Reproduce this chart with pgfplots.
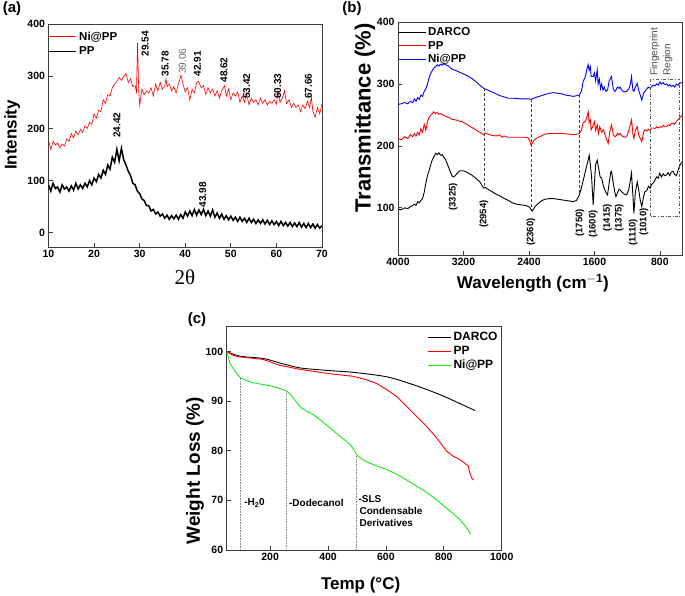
\documentclass[border=0pt]{standalone}
\usepackage{fontspec}
\setmainfont{Liberation Sans}
\newfontfamily\serifft{Liberation Serif}
\usepackage{pgfplots}
\pgfplotsset{compat=1.18}
\definecolor{cgreen}{RGB}{20,235,20}
\definecolor{axgray}{RGB}{60,60,60}
\begin{document}
\begin{tikzpicture}
\useasboundingbox (0pt,0pt) rectangle (685pt,596pt);
\pgfplotsset{
  every axis/.append style={
    scale only axis,
    tick align=inside,
    xtick pos=left, ytick pos=left,
    axis line style={line width=0.9pt, axgray},
    major tick length=4pt,
    tick style={line width=0.8pt, axgray},
    tick label style={font=\bfseries\fontsize{10.5}{12}\selectfont},
    /pgf/number format/assume math mode=true,
    /pgf/number format/1000 sep={},
    legend cell align=left,
    clip=true,
  }
}
% ---------------- panel (a)
\node[font=\bfseries\fontsize{15}{17}\selectfont] at (12pt,587pt) {(a)};
\begin{axis}[
  at={(48.5pt,349pt)}, anchor=south west,
  width=273.5pt, height=223pt,
  xmin=10, xmax=70, ymin=-27, ymax=400,
  xtick={10,20,...,70}, ytick={0,100,...,400},
  xlabel={\serifft\fontsize{21}{24}\selectfont 2θ},
  ylabel={\bfseries\fontsize{17}{19}\selectfont Intensity},
  xlabel style={at={(axis description cs:0.499,-0.135)}, anchor=center},
  ylabel style={at={(axis description cs:-0.133,0.502)}, anchor=center},
  legend style={at={(axis description cs:0.0,0.975)}, anchor=north west, draw=none, fill=none,
    font=\bfseries\fontsize{11.5}{13}\selectfont, inner sep=0pt, row sep=1pt},
  legend image code/.code={\draw[#1] (0pt,0pt) -- (27pt,0pt);},
]
\addplot[red, line width=0.6pt] coordinates {
(10,178)(10.5,160)(11,175)(11.5,168)(12,172)(12.5,163)(13,170)(13.5,166)(14,180)(14.5,175)
(15,190)(15.5,182)(16,195)(16.5,188)(17,198)(17.5,192)(18,205)(18.5,200)(19,212)(19.5,208)
(20,228)(20.5,220)(21,235)(21.5,232)(22,255)(22.5,248)(23,265)(23.5,262)(24,278)(24.5,285)
(25,290)(25.5,298)(26,292)(26.5,300)(27,305)(27.5,288)(28,295)(28.5,280)(29,282)(29.3,270)
(29.54,365)(29.8,270)(30,245)(30.5,275)(31,265)(31.5,272)(32,268)(32.5,278)(33,262)(33.5,285)
(34,272)(34.5,288)(35,275)(35.5,282)(35.78,295)(36,280)(36.5,285)(37,272)(37.5,280)(38,268)
(38.5,285)(39.06,302)(39.5,285)(40,270)(40.5,278)(41,255)(41.5,275)(42,268)(42.5,288)(42.91,290)
(43.5,278)(44,282)(44.5,265)(45,278)(45.5,268)(46,275)(46.5,262)(47,272)(47.5,258)(48,272)
(48.62,282)(49,262)(49.5,275)(50,255)(50.5,268)(51,262)(51.5,270)(52,250)(52.5,262)(53,250)
(53.42,268)(54,245)(54.5,258)(55,250)(55.5,255)(56,245)(56.5,258)(57,248)(57.5,255)(58,245)
(58.5,252)(59,248)(59.5,255)(60,246)(60.33,272)(60.8,250)(61.3,258)(61.8,272)(62.2,248)(62.8,255)
(63.3,240)(63.8,248)(64.3,240)(64.8,245)(65.3,232)(65.8,245)(66.3,238)(66.8,252)(67.3,240)(67.66,260)
(68,232)(68.5,222)(69,240)(69.5,228)(70,248)
};
\addlegendentry{Ni@PP}
\addplot[black, line width=1.5pt] coordinates {
(10,92)(10.5,80)(11,95)(11.5,85)(12,88)(12.5,78)(13,92)(13.5,84)(14,88)(14.5,80)
(15,90)(15.5,82)(16,95)(16.5,84)(17,92)(17.5,85)(18,95)(18.5,88)(19,100)(19.5,92)
(20,105)(20.5,98)(21,112)(21.5,105)(22,120)(22.5,112)(23,130)(23.5,122)(24,145)(24.5,135)
(25,160)(25.5,138)(26,162)(26.5,140)(27,130)(27.5,118)(28,110)(28.5,95)(29,92)(29.5,80)
(30,75)(30.5,65)(31,62)(31.5,52)(32,52)(32.5,42)(33,45)(33.5,36)(34,40)(34.5,32)
(35,36)(35.5,28)(36,34)(36.5,26)(37,33)(37.5,27)(38,34)(38.5,26)(39,35)(39.5,28)
(40,40)(40.5,32)(41,42)(41.5,33)(42,45)(42.5,34)(43,44)(43.5,35)(44,45)(44.5,33)
(45,42)(45.5,32)(46,44)(46.5,30)(47,38)(47.5,28)(48,36)(48.5,26)(49,33)(49.5,25)
(50,32)(50.5,24)(51,30)(51.5,22)(52,30)(52.5,22)(53,28)(53.5,20)(54,28)(54.5,20)
(55,26)(55.5,18)(56,25)(56.5,18)(57,25)(57.5,17)(58,24)(58.5,16)(59,23)(59.5,16)
(60,22)(60.5,14)(61,22)(61.5,14)(62,20)(62.5,13)(63,20)(63.5,12)(64,19)(64.5,12)
(65,20)(65.5,11)(66,18)(66.5,10)(67,18)(67.5,10)(68,17)(68.5,9)(69,16)(69.5,9)(70,14)
};
\addlegendentry{PP}
\begin{scope}[font=\bfseries\fontsize{10}{12}\selectfont]
\node[rotate=90] at (axis cs:31.2,362) {29.54};
\node[rotate=90] at (axis cs:35.6,324) {35.78};
\node[rotate=90, font=\fontsize{10}{12}\selectfont, text=black!60] at (axis cs:39.4,329) {39.06};
\node[rotate=90] at (axis cs:42.7,324) {42.91};
\node[rotate=90] at (axis cs:48.5,312) {48.62};
\node[rotate=90] at (axis cs:53.5,281) {53.42};
\node[rotate=90] at (axis cs:60.3,281) {60.33};
\node[rotate=90] at (axis cs:67.0,281) {67.66};
\node[rotate=90] at (axis cs:25.0,206) {24.42};
\node[rotate=90] at (axis cs:43.8,73) {43.98};
\end{scope}
\end{axis}
% ---------------- panel (b)
\node[font=\bfseries\fontsize{15}{17}\selectfont] at (352pt,587pt) {(b)};
\begin{axis}[
  at={(398pt,341pt)}, anchor=south west,
  width=284pt, height=233pt,
  x dir=reverse,
  xmin=530, xmax=4000, ymin=24, ymax=400,
  xtick={4000,3200,2400,1600,800}, ytick={100,200,300,400},
  xlabel={\bfseries\fontsize{17}{19}\selectfont Wavelength (cm$^{\mathbf{-1}}$)},
  ylabel={\bfseries\fontsize{22}{24}\selectfont Transmittance (\%)},
  xlabel style={at={(axis description cs:0.475,-0.12)}, anchor=center},
  ylabel style={at={(axis description cs:-0.116,0.588)}, anchor=center},
  legend style={at={(axis description cs:0.0,0.985)}, anchor=north west, draw=none, fill=none,
    font=\bfseries\fontsize{11.5}{13}\selectfont, inner sep=0pt, row sep=0pt},
  legend image code/.code={\draw[#1] (0pt,0pt) -- (27pt,0pt);},
]
\addplot[black, line width=0.9pt] coordinates {
(4000,98)(3960,97)(3920,100)(3880,99)(3850,102)(3820,104)(3800,106)(3780,104)(3760,110)(3740,108)
(3720,112)(3700,115)(3680,125)(3660,140)(3640,152)(3620,160)(3600,170)(3580,178)(3560,183)(3540,188)
(3520,186)(3500,189)(3480,185)(3460,186)(3440,182)(3420,178)(3400,172)(3380,165)(3360,158)(3340,152)
(3325,150)(3300,152)(3270,157)(3240,160)(3210,160)(3180,159)(3150,157)(3100,153)(3050,148)(3000,142)
(2954,132)(2930,133)(2900,130)(2850,126)(2800,122)(2750,119)(2700,115)(2650,112)(2600,108)(2550,106)
(2500,105)(2450,104)(2420,103)(2390,101)(2370,96)(2360,95)(2345,98)(2320,103)(2280,108)(2240,112)
(2200,114)(2150,115)(2100,115)(2050,114)(2000,113)(1950,112)(1900,111)(1860,110)(1820,112)(1786,120)
(1760,132)(1730,148)(1700,165)(1680,175)(1664,185)(1650,170)(1635,150)(1615,105)(1600,140)(1585,170)
(1566,177)(1550,165)(1530,150)(1512,148)(1490,135)(1460,125)(1440,121)(1420,140)(1400,158)(1391,159)
(1370,140)(1350,125)(1337,118)(1320,124)(1300,130)(1288,129)(1260,125)(1230,122)(1207,121)(1180,130)
(1160,145)(1147,156)(1130,120)(1118,91)(1100,125)(1077,142)(1060,130)(1040,112)(1021,102)(1000,118)
(984,126)(960,128)(940,135)(920,132)(900,138)(883,140)(860,145)(840,150)(820,148)(802,156)
(780,150)(760,155)(740,152)(719,153)(700,157)(680,152)(660,158)(638,159)(620,154)(597,152)
(580,160)(560,168)(540,172)(530,174)
};
\addlegendentry{DARCO}
\addplot[red, line width=0.9pt] coordinates {
(4000,212)(3960,210)(3920,215)(3880,212)(3850,218)(3820,215)(3800,220)(3780,216)(3760,222)(3740,218)
(3720,228)(3700,222)(3680,235)(3660,225)(3640,240)(3620,246)(3600,250)(3580,252)(3565,255)(3540,252)
(3520,254)(3500,251)(3480,252)(3450,250)(3420,248)(3380,246)(3340,243)(3300,242)(3250,240)(3215,239)
(3150,234)(3100,230)(3050,226)(3000,222)(2954,218)(2930,221)(2900,219)(2850,217)(2800,216)(2760,218)
(2730,214)(2700,216)(2657,214)(2600,214)(2500,214)(2450,214)(2410,213)(2390,208)(2376,202)(2360,204)
(2340,209)(2300,213)(2250,216)(2205,219)(2150,220)(2100,220)(2000,220)(1900,219)(1859,218)(1820,219)
(1786,220)(1760,225)(1737,237)(1710,240)(1690,248)(1676,255)(1665,238)(1650,242)(1640,226)(1620,232)
(1600,239)(1585,225)(1566,234)(1550,220)(1535,231)(1512,222)(1490,226)(1460,214)(1432,204)(1410,225)
(1391,234)(1370,218)(1350,215)(1337,216)(1320,220)(1300,218)(1288,220)(1260,216)(1230,214)(1207,215)
(1180,225)(1160,235)(1147,242)(1130,220)(1118,212)(1100,225)(1077,231)(1060,218)(1040,212)(1021,207)
(1000,222)(984,226)(960,224)(940,227)(920,225)(900,229)(883,229)(860,228)(840,231)(820,229)
(802,231)(780,230)(760,233)(740,231)(719,231)(700,234)(680,233)(660,236)(638,237)(620,235)
(597,240)(580,242)(560,245)(540,248)(530,250)
};
\addlegendentry{PP}
\addplot[blue, line width=0.9pt] coordinates {
(4000,267)(3960,268)(3920,270)(3880,268)(3850,272)(3820,270)(3800,276)(3780,272)(3760,278)(3740,275)
(3720,282)(3700,280)(3680,288)(3660,292)(3640,300)(3620,310)(3600,317)(3580,322)(3560,326)(3540,328)
(3520,331)(3500,329)(3480,332)(3460,330)(3440,333)(3420,331)(3400,330)(3380,329)(3360,326)(3340,324)
(3300,322)(3250,319)(3215,317)(3150,313)(3100,309)(3050,304)(3000,298)(2954,293)(2900,290)(2850,287)
(2800,284)(2750,281)(2700,279)(2657,277)(2600,277)(2500,276)(2450,276)(2400,276)(2376,275)(2340,277)
(2300,279)(2250,281)(2205,283)(2150,285)(2100,286)(2050,285)(2000,284)(1950,282)(1900,281)(1859,280)
(1820,281)(1786,282)(1760,288)(1737,304)(1710,312)(1690,325)(1676,331)(1665,322)(1650,328)(1640,312)
(1615,312)(1600,318)(1585,305)(1566,323)(1555,300)(1540,308)(1525,292)(1512,300)(1495,290)(1480,295)
(1460,288)(1440,290)(1420,305)(1391,312)(1370,292)(1350,288)(1337,290)(1320,295)(1300,293)(1288,295)
(1260,289)(1230,287)(1207,288)(1180,292)(1160,300)(1147,312)(1130,290)(1118,288)(1100,295)(1077,301)
(1060,290)(1040,282)(1021,274)(1000,285)(984,288)(960,292)(940,295)(920,293)(900,296)(883,298)
(860,297)(840,300)(820,298)(802,303)(780,300)(760,302)(740,299)(719,300)(700,297)(680,299)
(660,296)(638,298)(620,295)(597,300)(580,298)(560,301)(540,302)(530,303)
};
\addlegendentry{Ni@PP}
\draw[densely dashed, black!75, line width=0.6pt] (axis cs:2950,293) -- (axis cs:2950,132);
\draw[densely dashed, black!75, line width=0.6pt] (axis cs:2376,276) -- (axis cs:2376,96);
\draw[densely dashed, black!75, line width=0.6pt] (axis cs:1786,282) -- (axis cs:1786,120);
\draw[dash dot, black!65, line width=0.6pt] (axis cs:923,307.5) rectangle (axis cs:557,86);
\node[rotate=90, anchor=west, text=black!70, font=\fontsize{10}{12}\selectfont, inner sep=0pt] at (axis cs:862,313) {Fingerprint};
\node[rotate=90, anchor=west, text=black!70, font=\fontsize{10}{12}\selectfont, inner sep=0pt] at (axis cs:703,313) {Region};
\begin{scope}[font=\bfseries\fontsize{9.5}{11}\selectfont]
\node[rotate=90] at (axis cs:3325,118) {(3325)};
\node[rotate=90] at (axis cs:2950,90) {(2954)};
\node[rotate=90] at (axis cs:2376,61) {(2360)};
\node[rotate=90] at (axis cs:1778,76) {(1750)};
\node[rotate=90] at (axis cs:1615,74) {(1600)};
\node[rotate=90] at (axis cs:1440,84) {(1415)};
\node[rotate=90] at (axis cs:1298,84) {(1375)};
\node[rotate=90] at (axis cs:1127,61) {(1110)};
\node[rotate=90] at (axis cs:996,77) {(1010)};
\end{scope}
\end{axis}
% ---------------- panel (c)
\node[font=\bfseries\fontsize{15}{17}\selectfont] at (197pt,276pt) {(c)};
\begin{axis}[
  at={(226.7pt,46pt)}, anchor=south west,
  width=275pt, height=223.3pt,
  xmin=50, xmax=1000, ymin=60, ymax=105,
  xtick={200,400,...,1000}, ytick={60,70,...,100},
  xlabel={\bfseries\fontsize{17}{19}\selectfont Temp (°C)},
  ylabel={\bfseries\fontsize{19}{21}\selectfont Weight Loss (\%)},
  xlabel style={at={(axis description cs:0.487,-0.157)}, anchor=center},
  ylabel style={at={(axis description cs:-0.115,0.355)}, anchor=center},
  legend style={at={(axis description cs:0.73,0.985)}, anchor=north west, draw=none, fill=none,
    font=\bfseries\fontsize{12}{14}\selectfont, inner sep=0pt, row sep=0pt},
  legend image code/.code={\draw[#1] (0pt,0pt) -- (23pt,0pt);},
]
\addplot[black, line width=0.9pt, smooth] coordinates {
(50,100)(96,99.05)(176,98.6)(233,97.7)(303,96.7)(395,96.2)(487,95.8)(603,94.9)(695,93.3)(787,91.3)(856,89.5)(908,88.1)
};
\addlegendentry{DARCO}
\addplot[red, line width=0.9pt] coordinates {
(50,100)(70,99.3)(96,98.9)(130,98.7)(176,98.4)(205,97.8)(233,97.2)(270,96.8)(303,96.4)(350,96.0)(395,95.6)(440,95.3)(487,95.0)(533,94.3)(570,93.5)(603,92.3)(640,90.8)(672,88.9)(705,87.0)(741,84.9)(775,82.6)(810,79.9)(835,78.8)(856,78.2)(872,77.5)(884,77.0)(888,76.0)(892,75.2)(896,74.5)(904,74.1)
};
\addlegendentry{PP}
\addplot[cgreen, line width=0.9pt] coordinates {
(50,100)(55,99)(61,97.7)(70,96.8)(79,96.0)(88,95.3)(98,94.7)(120,94.1)(142,93.7)(170,93.4)(200,93.1)(230,92.6)(257,92.0)(270,91.4)(280,90.6)(295,89.5)(309,88.6)(328,87.9)(349,87.3)(378,86.0)(407,84.6)(435,83.2)(464,81.9)(481,80.9)(490,80.1)(499,79.2)(515,78.4)(533,77.8)(565,77.0)(603,76.2)(640,75.2)(672,74.1)(705,72.9)(741,71.6)(775,70.1)(810,68.4)(835,67.2)(856,66.1)(875,64.8)(893,63.2)
};
\addlegendentry{Ni@PP}
\draw[densely dotted, black!45, line width=0.6pt] (axis cs:98,94.7) -- (axis cs:98,60);
\draw[densely dotted, black!45, line width=0.6pt] (axis cs:255,92.0) -- (axis cs:255,60);
\draw[densely dotted, black!45, line width=0.6pt] (axis cs:497,79.3) -- (axis cs:497,60);
\begin{scope}[font=\bfseries\fontsize{10}{12}\selectfont]
\node[anchor=west, inner sep=0pt] at (axis cs:110,69.5) {-H$_{\mathbf{2}}$0};
\node[anchor=west, inner sep=0pt] at (axis cs:265,69.5) {-Dodecanol};
\node[anchor=north west, inner sep=0pt, align=left] at (axis cs:505,71) {-SLS\\\hspace*{1pt}Condensable\\\hspace*{1pt}Derivatives};
\end{scope}
\end{axis}
\end{tikzpicture}
\end{document}
